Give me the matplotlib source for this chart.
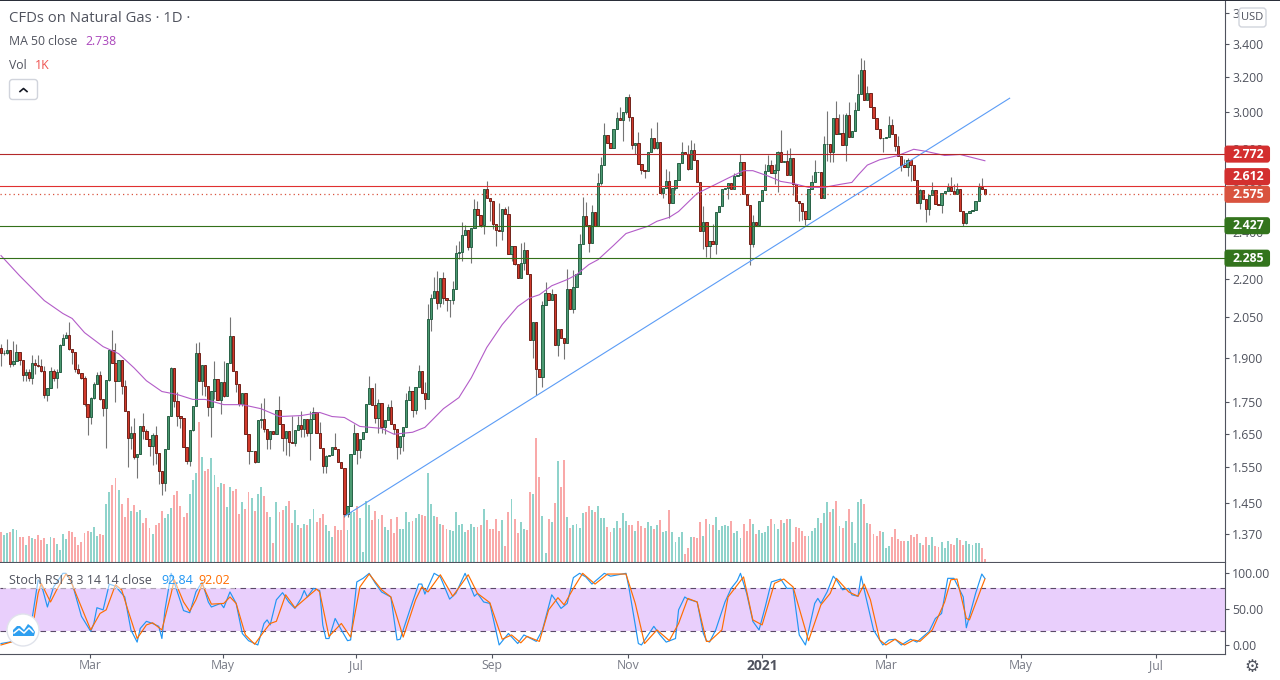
import matplotlib
matplotlib.use("Agg")
import matplotlib.pyplot as plt
from matplotlib.patches import Rectangle, FancyBboxPatch, Circle, Polygon
from matplotlib.ticker import FormatStrFormatter, NullLocator

plt.rcParams['font.family'] = ['Open Sans', 'DejaVu Sans']

# daily closes, the open is taken as the previous close
first_open = 1.933
closes = [
    1.917, 1.917, 1.928, 1.877, 1.889, 1.919, 1.892, 1.839, 1.850, 1.829,
    1.881, 1.874, 1.870, 1.853, 1.771, 1.796, 1.853, 1.828, 1.850, 1.946,
    1.971, 1.982, 1.931, 1.920, 1.860, 1.846, 1.829, 1.743, 1.703, 1.763,
    1.809, 1.839, 1.760, 1.730, 1.822, 1.928, 1.881, 1.819, 1.892, 1.803,
    1.720, 1.636, 1.651, 1.580, 1.589, 1.673, 1.657, 1.633, 1.611, 1.645,
    1.591, 1.539, 1.505, 1.604, 1.706, 1.863, 1.753, 1.706, 1.697, 1.608,
    1.568, 1.660, 1.737, 1.917, 1.819, 1.874, 1.803, 1.734, 1.786, 1.826,
    1.757, 1.815, 1.768, 1.881, 1.978, 1.853, 1.809, 1.743, 1.779, 1.648,
    1.597, 1.597, 1.565, 1.692, 1.695, 1.663, 1.633, 1.657, 1.648, 1.724,
    1.681, 1.636, 1.657, 1.624, 1.621, 1.660, 1.677, 1.663,
    1.695, 1.651, 1.695, 1.716, 1.653, 1.606, 1.553, 1.583, 1.586, 1.609,
    1.604, 1.564, 1.548, 1.421, 1.443, 1.589, 1.651, 1.600, 1.633, 1.654,
    1.743, 1.796, 1.739, 1.699, 1.746, 1.669, 1.692, 1.734, 1.681, 1.663,
    1.609, 1.642, 1.669, 1.756, 1.786, 1.723, 1.799, 1.853, 1.779, 1.760,
    2.041, 2.123, 2.151, 2.103, 2.201, 2.123, 2.115, 2.115, 2.159, 2.308,
    2.312, 2.386, 2.409, 2.335, 2.418, 2.505, 2.477, 2.431, 2.600, 2.556,
    2.543, 2.434, 2.409, 2.405, 2.505, 2.482, 2.303, 2.339, 2.262, 2.201,
    2.266, 2.321, 2.219, 1.963, 2.030, 1.861, 1.834, 2.095, 2.143, 2.115,
    2.139, 1.945, 2.004, 1.970, 1.952, 2.159, 2.081, 2.167, 2.219, 2.347,
    2.473, 2.431, 2.352, 2.491, 2.425, 2.627, 2.715, 2.874, 2.832, 2.806,
    2.902, 2.965, 2.955, 3.000, 3.080, 2.970, 2.817, 2.832, 2.722, 2.692,
    2.688, 2.781, 2.856, 2.806, 2.837, 2.580, 2.604, 2.639, 2.532, 2.604,
    2.643, 2.729, 2.781, 2.770, 2.698, 2.795, 2.743, 2.633, 2.405, 2.445,
    2.339, 2.357, 2.344, 2.491, 2.519, 2.600, 2.604, 2.627, 2.600, 2.661,
    2.666, 2.734, 2.575, 2.524, 2.347, 2.445, 2.431, 2.543, 2.595, 2.688,
    2.715, 2.675, 2.692, 2.785, 2.734, 2.739, 2.666, 2.751, 2.620, 2.543,
    2.532, 2.496, 2.459,
    2.600, 2.630, 2.680, 2.680, 2.556, 2.825, 2.825, 2.785, 2.963, 2.880,
    2.885, 2.820, 2.980, 2.860, 2.896, 3.011, 3.097, 3.238, 3.062, 3.104,
    3.026, 2.966, 2.902, 2.856, 2.856, 2.860, 2.928, 2.880, 2.815, 2.763,
    2.716, 2.706, 2.743, 2.716, 2.641, 2.532, 2.595, 2.551, 2.505, 2.570,
    2.595, 2.527, 2.522, 2.580, 2.590, 2.610, 2.590, 2.575, 2.600, 2.496,
    2.440, 2.487, 2.496, 2.501, 2.540, 2.610, 2.600, 2.575,
]

# wick length above / below the body, percent of price
wick_up = [
    .8, .5, 2.0, 0, 3.8, 1.5, 0, 0, .6, .6,
    1.4, .7, 1.9, 1.3, 1.0, 0, .7, .4, .6, .1,
    .7, .5, 2.4, 0, 0, .9, .1, .4, 0, .2,
    .3, .5, .7, 0, 0, 0, 3.8, 3.8, 0, 0,
    1.0, 0, 1.4, 2.9, 0, 0, 2.4, .4, 0, .5,
    1.7, 0, 0, 0, 0, .2, .1, 1.6, 0, 0,
    0, 0, 0, 1.8, 2.0, 0, 0, 0, 0, 3.4,
    0, 0, 4, 0, 3.6, 0, 0, 0, 0, 0,
    0, 0, 0, 0, 3.1, 3.9, 0, 0, 0, 0,
    2.7, 0, 0, 0, 5, 0, 1.7, 2.6,
    0, 0, 1.5, 1, 0, 1.9, 0, .2, 0, 0,
    2.7, 0, 0, 0, 0, 0, 1.7, 0, 0, 0,
    0, 2.3, 0, 4.2, .7, 0, 0, .6, 1.3, 0,
    0, 0, 0, 1.4, 1, 0, 0, 1.1, 0, 2,
    2.8, .7, 2.5, 3.8, 0, 1.1, 0, 0, 1.5, 1.5,
    2.1, 2.4, .8, 0, 0, 1.9, 1.5, 0, 0, 1.5,
    0, 0, 0, 5.1, 0, .4, 1.4, 0, 0, 0,
    3.8, 1.4, 0, 0, 0, 0, 0, .7, 2, 0,
    .9, 0, 0, 0, 0, 3.7, 0, 3.2, 0, 1.9,
    3.5, 2.5, 0, 1.2, 0, 1.9, 1.5, 2.2, 0, 0,
    0, 1, 2, 0, 0, .6, 0, 0, 2, 0,
    0, 0, 1.8, 0, 3.8, 0, 0, 2.2, 1.8, 0,
    0, 0, 2, 0, 1.7, 1.9, 1.2, 0, 0, 2.9,
    0, 0, 3.3, 0, 0, 0, 0, 0, 0, .6,
    0, 1.4, 0, 0, 0, 1.2, 0, 0, 0, 1.3,
    1.9, 1, 1.1, .1, 4, 0, 1.9, 1.9, 0, 0,
    0, 0, 0,
    0, 1.4, 2.4, 0, 0, 1.5, 6.2, 0, 0, 3.3,
    3.5, 3.5, .4, 2.4, 0, 1.4, 3.9, 2.4, 1.9, 1.4,
    0, 0, 0, 0, 0, 0, 1.7, 1.1, 0, 1.9,
    0, 1.1, .4, 0, 0, 0, .2, 0, 0, 0,
    1.4, 0, 0, 0, 0, .7, 1.8, 1.3, 1.1, 0,
    0, 0, 0, 0, 0, .7, 1.6, 0,
]
wick_dn = [
    2.4, .5, .2, .6, .3, .1, 1.0, 1.0, 1.0, .5,
    1.0, 1.7, .2, .2, .4, 1.0, 0, .4, 1.8, 0,
    0, 0, .3, 2.2, .6, .2, .2, .3, 3.4, 1.3,
    .2, 0, .3, 1.4, 7.1, .1, 0, 3.8, 0, 1.5,
    0, 5.3, 2.0, .4, 3.8, 0, 1.5, 0, 1.8, 3.3,
    2.0, 2.4, 2.2, 1.4, 0, 0, 1.2, 2.0, 1.7, 0,
    .6, .9, .1, 0, 0, 2.5, 1.8, 1.6, 5.4, 1.5,
    .1, 2.6, .2, 0, 0, 0, 1.5, .3, .3, 0,
    2.3, 0, .2, 0, 1.5, .5, 1.9, 1.9, 0, 0,
    0, 2.4, 3, 2.5, 0, .5, 0, 1.5,
    1.5, .5, 4.8, 0, 0, 0, 1.2, 1.2, 0, 0,
    0, 0, 0, .6, .5, 0, 0, 2.5, 1.4, 0,
    0, 0, 0, .9, 2.8, 1, 1.3, 0, 0, .9,
    2.2, 1.3, 2.7, 0, 0, 1.2, .7, 0, 0, 1.9,
    0, 2.2, 0, 1.1, .8, 1.1, 2, 3.2, .7, 0,
    1.1, 1.6, 0, .7, 3, 0, 0, .4, 1.7, 0,
    3.7, .9, 3, 0, 1.8, 0, 0, 1.3, .3, 0,
    0, 1.4, 0, 0, 3.2, 4.7, 0, 1.9, 0, 0,
    0, 0, 2, 0, 3, 0, 0, .9, 0, 0,
    0, 0, 1.7, 0, 0, 0, .3, 0, 0, 0,
    0, 0, 0, 3.9, .4, .8, .6, 1.5, 0, .7,
    1.3, 0, 0, .2, .2, 0, .9, 0, 2.8, 0,
    .5, 0, 0, 0, .3, 0, 0, 0, 0, 3.4,
    2.1, 2.3, 0, 1.7, 0, 0, 0, 2, 0, 0,
    0, 0, 0, 0, 3.8, .6, 0, 0, 0, 0,
    0, 0, 1.9, 4.1, 0, 0, 0, 0, 2, 0,
    3.3, 1.7, 1.2,
    0, 0, 0, 0, 0, 0, 3.1, 1.9, 1.9, 0,
    0, 0, 2.9, 0, 0, 0, 0, 0, 0, 0,
    0, 0, 0, .2, 2.5, 0, 0, 0, 1, 0,
    1, 0, 1.6, 2.9, 0, 0, 1.1, 0, 2.5, 1.1,
    0, 0, 0, 1.4, 0, 0, 0, 0, 0, 0,
    .5, .2, 0, 0, 0, 0, 0, .3,
]

# volume heights as read, only the relative size matters
volumes = [
    90, 81, 87, 90, 99, 96, 75, 75, 51, 78,
    72, 69, 81, 66, 72, 54, 75, 72, 54, 36,
    84, 69, 93, 90, 75, 51, 60, 87, 93, 90,
    105, 78, 84, 81, 174, 210, 231, 252, 216, 174,
    135, 192, 153, 171, 150, 156, 117, 132, 102, 84,
    111, 117, 153, 132, 144, 162, 201, 213, 168, 135,
    147, 204, 246, 267, 420, 315, 273, 279, 312, 261,
    225, 237, 234, 165, 225, 213, 219, 144, 180, 159,
    210, 192, 153, 204, 225, 198, 150, 135, 57, 180,
    150, 156, 168, 183, 117, 156, 111, 102, 114, 111,
    129, 159, 120, 132, 144, 111, 93, 75, 108, 96,
    96, 180, 96, 150, 150, 168, 132, 30, 183, 171,
    126, 153, 129, 141, 105, 96, 129, 87, 135, 99,
    99, 150, 120, 123, 132, 144, 141, 138, 267, 174,
    138, 135, 114, 111, 99, 96, 93, 150, 111, 114,
    90, 96, 114, 105, 105, 111, 159, 126, 99, 99,
    129, 93, 126, 48, 150, 189, 129, 87, 120, 99,
    96, 210, 204, 372, 255, 138, 27, 129, 120, 177,
    303, 225, 306, 135, 102, 111, 114, 102, 147, 150,
    168, 156, 150, 168, 132, 132, 105, 90, 102, 123,
    102, 147, 123, 111, 111, 93, 123, 108, 102, 120,
    108, 99, 111, 126, 90, 93, 156, 90, 60, 75,
    90, 24, 42, 75, 75, 72, 120, 78, 129, 114,
    111, 135, 96, 108, 111, 108, 123, 87, 93, 72,
    114, 93, 129, 114, 84, 96, 87, 90, 108, 129,
    114, 99, 126, 117, 129, 129, 60, 105, 102, 93,
    78, 78, 93, 102, 132, 117, 147, 180, 150, 159,
    183, 108, 102, 123, 159, 120, 57, 180, 189, 174,
    117, 114, 84, 78, 93, 90, 42, 48, 75, 99,
    69, 63, 63, 63, 81, 75, 84, 57, 51, 75,
    51, 75, 48, 45, 60, 42, 63, 54, 51, 72,
    66, 51, 63, 54, 51, 57, 57, 42, 9,
]

ma_bars = [0, 6, 14, 20, 23, 27, 33, 38, 43, 47, 52, 57, 62, 66, 72, 78, 84, 90, 97, 103,
           107, 111, 116, 123, 127, 133, 137, 143, 148, 152, 157, 162, 167, 171, 174, 178,
           183, 186, 190, 193, 198, 202, 209, 212, 216, 219, 225, 229, 235, 240, 243, 248,
           252, 256, 261, 266, 271, 275, 277, 280, 284, 290, 295, 299, 305, 310, 318]
ma_vals = [2.296, 2.212, 2.112, 2.062, 2.043, 1.990, 1.939, 1.914, 1.864, 1.820, 1.784, 1.774,
           1.758, 1.758, 1.741, 1.741, 1.728, 1.703, 1.706, 1.716, 1.703, 1.700, 1.672, 1.666,
           1.648, 1.654, 1.669, 1.728, 1.764, 1.830, 1.936, 2.020, 2.089, 2.123, 2.135, 2.171,
           2.196, 2.216, 2.258, 2.279, 2.340, 2.392, 2.424, 2.447, 2.465, 2.492, 2.577, 2.606,
           2.651, 2.688, 2.688, 2.661, 2.635, 2.625, 2.606, 2.606, 2.620, 2.630, 2.666, 2.716,
           2.743, 2.765, 2.797, 2.786, 2.765, 2.770, 2.738]

k_bars = [0, 4, 8, 10, 12, 13, 15, 17, 20, 21, 23, 26, 29, 30, 31, 33, 35, 37, 40, 42,
          44, 45, 47, 49, 51, 52, 53, 55, 57, 59, 61, 63, 65, 67, 68, 71, 72, 74, 76, 78,
          80, 83, 85, 86, 87, 89, 91, 93, 95, 97, 98, 99, 101, 103, 104, 105, 106, 108, 110, 112,
          113, 115, 117, 119, 121, 123, 126, 128, 129, 133, 135, 136, 137, 140, 142, 145, 147, 150, 153, 154,
          156, 158, 161, 164, 167, 169, 173, 175, 178, 179, 181, 183, 185, 187, 189, 191, 195, 197, 202, 203,
          206, 207, 211, 213, 215, 218, 219, 221, 222, 225, 227, 228, 229, 231, 234, 236, 238, 239, 241, 243,
          245, 247, 249, 252, 254, 256, 258, 260, 263, 264, 265, 267, 269, 270, 272, 274, 275, 277, 278, 279,
          282, 285, 287, 289, 291, 294, 296, 300, 302, 304, 306, 308, 311, 312, 315, 317, 318]
k_vals = [2, 5, 12, 35, 91, 85, 53, 81, 100, 100, 86, 40, 19, 30, 52, 49, 85, 82, 67, 21,
          4, 23, 33, 30, 26, 9, 49, 100, 74, 48, 45, 74, 88, 60, 53, 58, 52, 74, 58, 16,
          6, 0, 30, 35, 28, 63, 73, 60, 51, 65, 76, 67, 79, 76, 28, 9, 9, 37, 21, 6,
          7, 88, 93, 100, 86, 74, 67, 7, 8, 60, 85, 85, 71, 100, 95, 64, 72, 100, 68, 72,
          60, 58, 0, 16, 2, 14, 5, 21, 70, 64, 51, 58, 94, 100, 95, 85, 100, 96, 100, 79,
          2, 0, 26, 14, 4, 9, 49, 67, 64, 60, 16, 6, 4, 21, 60, 79, 90, 100, 72, 33,
          21, 53, 88, 92, 79, 79, 14, 0, 58, 65, 58, 74, 96, 91, 77, 79, 70, 68, 96, 77,
          21, 0, 7, 8, 0, 8, 4, 19, 37, 44, 93, 93, 67, 24, 72, 99, 92.84]

d_bars = [0, 4, 6, 10, 12, 13, 16, 18, 21, 22, 27, 29, 32, 34, 37, 39, 41, 44, 47, 49,
          52, 55, 56, 59, 61, 63, 65, 68, 72, 74, 76, 79, 82, 85, 87, 89, 92, 95, 99, 102,
          103, 106, 110, 113, 116, 119, 123, 126, 130, 134, 136, 138, 142, 146, 151, 154, 158, 162, 165, 168,
          170, 174, 177, 180, 182, 185, 188, 192, 196, 202, 205, 208, 212, 216, 219, 222, 225, 228, 229, 233,
          235, 240, 243, 246, 250, 253, 256, 261, 265, 268, 270, 274, 277, 279, 281, 284, 286, 289, 292, 295,
          297, 301, 305, 307, 309, 312, 313, 317, 318]
d_vals = [0, 5, 12, 19, 72, 86, 60, 77, 99, 95, 42, 21, 44, 49, 84, 77, 49, 9, 28, 31,
          21, 72, 91, 60, 47, 63, 85, 57, 58, 67, 58, 14, 1, 19, 30, 33, 70, 52, 67, 78,
          74, 12, 30, 11, 81, 99, 77, 67, 11, 63, 81, 74, 98, 68, 98, 72, 59, 8, 14, 3,
          12, 5, 49, 66, 56, 79, 100, 85, 99, 99, 58, 2, 21, 6, 30, 65, 60, 5, 5, 21,
          67, 95, 35, 28, 86, 92, 81, 6, 56, 72, 93, 74, 68, 85, 63, 7, 0, 8, 0, 7,
          5, 21, 60, 91, 92, 37, 35, 81, 92.02]

trend_bars = [111.2, 326]
trend_vals = [1.416, 3.075]

level_vals = [2.772, 2.612, 2.427, 2.285]
level_colors = ['#b3282a', '#e03030', '#33701a', '#33701a']
last_price = 2.575

price_ticks = [3.6, 3.4, 3.2, 3.0, 2.8, 2.6, 2.4, 2.2, 2.05, 1.9, 1.75, 1.65, 1.55, 1.45, 1.37]
stoch_ticks = [0, 50, 100]
date_bars = [28.8, 71.8, 114.7, 158.7, 202.6, 246, 286, 329.7, 373.3]
date_labels = ['Mar', 'May', 'Jul', 'Sep', 'Nov', '2021', 'Mar', 'May', 'Jul']

W, H = 1280, 680
AXIS_X = 1224.5
MAIN_BOTTOM = 562
STOCH_BOTTOM = 653.5
BAR_PX = 3.094
TEXT = '#50535e'

fig = plt.figure(figsize=(W / 100, H / 100), dpi=100, facecolor='white')


def pane(top, bottom):
    return [0, 1 - bottom / H, AXIS_X / W, (bottom - top) / H]


vol_ax = fig.add_axes(pane(0, MAIN_BOTTOM), zorder=1)
ax = fig.add_axes(pane(0, MAIN_BOTTOM), zorder=2)
st = fig.add_axes(pane(MAIN_BOTTOM + 1, STOCH_BOTTOM), zorder=2)
ax.patch.set_visible(False)

xlim = (-1 / BAR_PX, (AXIS_X - 1) / BAR_PX)
opens = [first_open] + closes[:-1]
bars = list(range(len(closes)))
tops = [max(o, c) for o, c in zip(opens, closes)]
bottoms = [min(o, c) for o, c in zip(opens, closes)]
highs = [t * (1 + u / 100) for t, u in zip(tops, wick_up)]
lows = [b * (1 - d / 100) for b, d in zip(bottoms, wick_dn)]
is_up = [c >= o for o, c in zip(opens, closes)]

# volume sits behind the candles, three units to the pixel
vol_colors = ['#8fd3cb' if u else '#f9a9a9' for u in is_up]
vol_ax.bar(bars[:len(volumes)], volumes, width=0.62, color=vol_colors, linewidth=0)
vol_ax.set_xlim(xlim)
vol_ax.set_ylim(0, MAIN_BOTTOM * 3)
vol_ax.axis('off')

ax.set_yscale('log')
ax.vlines(bars, lows, highs, color='#757575', linewidth=0.8, zorder=3)
ax.bar(bars, [t - b for t, b in zip(tops, bottoms)], bottom=bottoms, width=0.74,
       color=['#4c9a72' if u else '#d13a2c' for u in is_up],
       edgecolor=['#1f5a3e' if u else '#6a1a12' for u in is_up],
       linewidth=0.65, zorder=4)
ax.plot(ma_bars, ma_vals, color='#b35cc8', linewidth=0.8, zorder=5)
ax.plot(trend_bars, trend_vals, color='#5b9cf6', linewidth=0.8, zorder=5)
for val, col in zip(level_vals, level_colors):
    ax.axhline(val, color=col, linewidth=0.8, zorder=6)
ax.axhline(last_price, color='#d9533f', linewidth=0.9, linestyle=(0, (1, 2.5)), zorder=6)

ax.set_xlim(xlim)
ax.set_ylim(1.300, 3.69)
ax.yaxis.tick_right()
ax.set_yticks(price_ticks)
ax.yaxis.set_major_formatter(FormatStrFormatter('%.3f'))
ax.yaxis.set_minor_locator(NullLocator())
ax.tick_params(axis='y', length=3, width=0.8, color=TEXT, labelsize=8.8, labelcolor=TEXT, pad=2.5)
ax.set_xticks([])
for side in ['top', 'left']:
    ax.spines[side].set_visible(False)
ax.spines['right'].set_color(TEXT)
ax.spines['bottom'].set_color(TEXT)

# stochastic pane
st.axhspan(20, 80, color='#e9cffc', linewidth=0, zorder=1)
for lvl in [20, 80]:
    st.axhline(lvl, color='#5b4a68', linewidth=0.8, linestyle=(0, (5, 4)), zorder=2)
st.plot(k_bars, k_vals, color='#2196f3', linewidth=0.85, zorder=3)
st.plot(d_bars, d_vals, color='#ff6d00', linewidth=0.85, zorder=4)
st.set_xlim(xlim)
st.set_ylim(-11.9, 114.4)
st.yaxis.tick_right()
st.set_yticks(stoch_ticks)
st.yaxis.set_major_formatter(FormatStrFormatter('%.2f'))
st.tick_params(axis='y', length=3, width=0.8, color=TEXT, labelsize=8.8, labelcolor=TEXT, pad=2.5)
st.set_xticks(date_bars)
st.set_xticklabels(date_labels)
st.tick_params(axis='x', length=3, width=0.8, color=TEXT, labelsize=8.8, labelcolor='#787b86', pad=1)
for lab in st.get_xticklabels():
    if lab.get_text() == '2021':
        lab.set_fontweight('bold')
        lab.set_fontsize(10)
        lab.set_color(TEXT)
for side in ['top', 'left']:
    st.spines[side].set_visible(False)
st.spines['right'].set_color(TEXT)
st.spines['bottom'].set_color(TEXT)

# overlay in pixel coordinates for legends, price labels and buttons
ov = fig.add_axes([0, 0, 1, 1], zorder=10)
ov.set_xlim(0, W)
ov.set_ylim(H, 0)
ov.axis('off')
ov.patch.set_visible(False)
ov.add_patch(Rectangle((0, 0), W, 1.2, color='#2a2e39', linewidth=0))


def price_y(val):
    return H - ax.transData.transform((0, val))[1]


price_labels = [('2.772', 2.772, 0, '#d32f2f'), ('2.612', 2.612, -9.5, '#d32f2f'),
                ('2.575', 2.575, 0.5, '#d9533f'), ('2.427', 2.427, 0, '#33741d'),
                ('2.285', 2.285, 0, '#33741d')]
for txt, val, shift, col in price_labels:
    yc = price_y(val) + shift
    ov.add_patch(FancyBboxPatch((AXIS_X + 1, yc - 7.5), 43.5, 15, boxstyle='round,pad=0,rounding_size=2',
                                mutation_aspect=1, facecolor=col, edgecolor=col, linewidth=1.5))
    ov.text(1248.5, yc + 0.3, txt, color='white', fontsize=8.8, fontweight='bold', ha='center', va='center')

ov.add_patch(FancyBboxPatch((1239, 8), 27, 19, boxstyle='round,pad=0,rounding_size=3',
                            facecolor='white', edgecolor='#d1d4dc', linewidth=1))
ov.text(1252.5, 17.5, 'USD', color=TEXT, fontsize=8, ha='center', va='center')

ov.text(9, 18, 'CFDs on Natural Gas · 1D ·', color=TEXT, fontsize=10.7, va='center')
ov.text(9, 41.5, 'MA 50 close', color=TEXT, fontsize=8.8, va='center')
ov.text(85, 41.5, '2.738', color='#ab47bc', fontsize=8.8, va='center')
ov.text(9, 65.5, 'Vol', color=TEXT, fontsize=8.8, va='center')
ov.text(35, 65.5, '1K', color='#ef5350', fontsize=8.8, va='center')
ov.add_patch(FancyBboxPatch((9.5, 79.5), 28, 20, boxstyle='round,pad=0,rounding_size=3',
                            facecolor='white', edgecolor='#d1d4dc', linewidth=1))
ov.plot([20, 23.5, 27], [91.5, 88.5, 91.5], color='#131722', linewidth=1.2)

ov.add_patch(Rectangle((3, 572), 232, 17, facecolor='white', edgecolor='none', alpha=0.5))
ov.text(9, 580, 'Stoch RSI 3 3 14 14 close', color=TEXT, fontsize=9, va='center')
ov.text(161, 580, '92.84', color='#2196f3', fontsize=9, va='center')
ov.text(198, 580, '92.02', color='#ff6d00', fontsize=9, va='center')

# logo bubble
ov.add_patch(Circle((23, 630), 16, facecolor='white', edgecolor='#e0e3eb', linewidth=1))
ov.add_patch(Polygon([(13, 636), (13, 630), (17, 626), (20, 626), (24, 630), (28, 624), (32, 627),
                      (35, 632), (34, 636)], closed=True, facecolor='#2e9ff0', edgecolor='none'))
ov.plot([14, 19, 24, 29, 33], [633, 629, 633, 628, 632], color='white', linewidth=1.1)

ov.text(1252, 667, '\u2699', color=TEXT, fontsize=12, ha='center', va='center', family=['DejaVu Sans'])

fig.savefig('out.png', dpi=100, facecolor='white')
